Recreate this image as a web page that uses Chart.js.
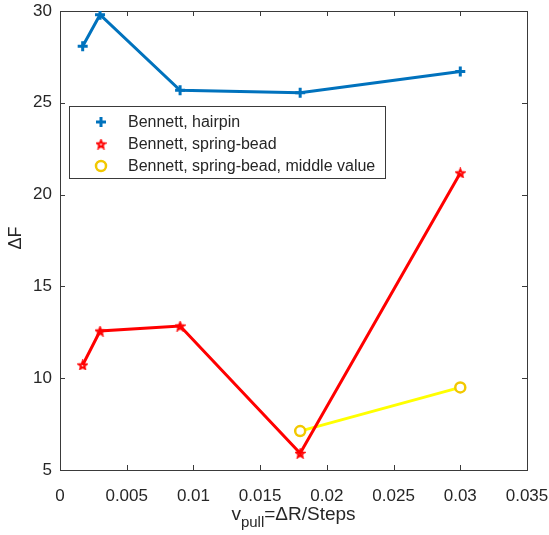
<!DOCTYPE html>
<html>
<head>
<meta charset="utf-8">
<script src="https://cdn.jsdelivr.net/npm/chart.js@4/dist/chart.umd.min.js"></script>
<style>
  html, body { margin: 0; padding: 0; background: #fff; }
  #wrap { width: 549px; height: 535px; }
</style>
</head>
<body>
<div id="wrap"><canvas id="freeEnergyChart"></canvas></div>
<script>
// pulling speeds and free energy differences
const vPull = [0.0017, 0.003, 0.009, 0.018, 0.03];
const hairpin = [28.08, 29.8, 25.68, 25.55, 26.7];
const springBead = [10.72, 12.57, 12.84, 5.91, 21.18];
const middleX = [0.018, 0.03];
const middleValue = [7.12, 9.5];
const xTicks = [0, 0.005, 0.01, 0.015, 0.02, 0.025, 0.03, 0.035];
const yTicks = [5, 10, 15, 20, 25, 30];

const FONT = '"Liberation Sans", Arial, Helvetica, sans-serif';
const AXIS_COLOR = '#3a3a3a';

// pentagram marker (MATLAB 'p')
function pentagram(color, size) {
    const c = document.createElement('canvas');
    c.width = size; c.height = size;
    const g = c.getContext('2d');
    const cx = size / 2, cy = size / 2 + 0.5, R = size / 2 - 1.5, r = R * 0.45;
    g.beginPath();
    for (let i = 0; i < 10; i++) {
        const a = -Math.PI / 2 + i * Math.PI / 5;
        const rad = i % 2 === 0 ? R : r;
        const px = cx + rad * Math.cos(a), py = cy + rad * Math.sin(a);
        if (i === 0) g.moveTo(px, py); else g.lineTo(px, py);
    }
    g.closePath();
    g.strokeStyle = color;
    g.lineWidth = 2;
    g.stroke();
    return c;
}
const starMarker = pentagram('#ff0000', 11);

const toPoints = (xs, ys) => xs.map((x, i) => ({ x: x, y: ys[i] }));

// axes box with inward ticks, axis titles and the legend
const matlabAxes = {
    id: 'matlabAxes',
    beforeDatasetsDraw(chart) {
        const { ctx, chartArea: a, scales: { x, y } } = chart;
        ctx.save();
        ctx.strokeStyle = AXIS_COLOR;
        ctx.lineWidth = 1;
        ctx.strokeRect(a.left + 0.5, a.top + 0.5, a.right - a.left, a.bottom - a.top);
        ctx.beginPath();
        x.ticks.forEach(t => {
            const px = Math.round(x.getPixelForValue(t.value)) + 0.5;
            ctx.moveTo(px, a.bottom); ctx.lineTo(px, a.bottom - 5);
            ctx.moveTo(px, a.top); ctx.lineTo(px, a.top + 5);
        });
        y.ticks.forEach(t => {
            const py = Math.round(y.getPixelForValue(t.value)) + 0.5;
            ctx.moveTo(a.left, py); ctx.lineTo(a.left + 5, py);
            ctx.moveTo(a.right, py); ctx.lineTo(a.right - 5, py);
        });
        ctx.stroke();
        ctx.restore();
    },
    afterDraw(chart) {
        const { ctx, chartArea: a } = chart;
        ctx.save();
        ctx.fillStyle = '#262626';
        // y title
        ctx.font = '18px ' + FONT;
        ctx.textAlign = 'center';
        ctx.textBaseline = 'middle';
        ctx.translate(16, 238);
        ctx.rotate(-Math.PI / 2);
        ctx.fillText('ΔF', 0, 0);
        ctx.setTransform(1, 0, 0, 1, 0, 0);

        // x title with subscript
        const main1 = 'v', sub = 'pull', main2 = '=ΔR/Steps';
        ctx.textAlign = 'left';
        ctx.textBaseline = 'alphabetic';
        ctx.font = '19px ' + FONT;
        const w1 = ctx.measureText(main1).width, w3 = ctx.measureText(main2).width;
        ctx.font = '15px ' + FONT;
        const w2 = ctx.measureText(sub).width;
        let tx = (a.left + a.right) / 2 - (w1 + w2 + w3) / 2;
        const base = 520;
        ctx.font = '19px ' + FONT;
        ctx.fillText(main1, tx, base); tx += w1;
        ctx.font = '15px ' + FONT;
        ctx.fillText(sub, tx, base + 7); tx += w2;
        ctx.font = '19px ' + FONT;
        ctx.fillText(main2, tx, base);

        // legend
        const box = { x: 69.5, y: 106.5, w: 316, h: 72 };
        ctx.fillStyle = '#fff';
        ctx.fillRect(box.x, box.y, box.w, box.h);
        ctx.strokeStyle = AXIS_COLOR;
        ctx.lineWidth = 1;
        ctx.strokeRect(box.x, box.y, box.w, box.h);
        ctx.font = '16px ' + FONT;
        ctx.textBaseline = 'middle';
        chart.data.datasets.forEach((ds, i) => {
            const ly = 122 + i * 22;
            const r = ds.pointRadius;
            ctx.strokeStyle = ds.pointBorderColor;
            ctx.fillStyle = ds.pointBackgroundColor;
            ctx.lineWidth = ds.pointBorderWidth;
            ctx.beginPath();
            if (ds.pointStyle === 'cross') {
                ctx.moveTo(101 - r, ly); ctx.lineTo(101 + r, ly);
                ctx.moveTo(101, ly - r); ctx.lineTo(101, ly + r);
                ctx.stroke();
            } else if (ds.pointStyle === 'circle') {
                ctx.arc(101, ly, r, 0, Math.PI * 2);
                ctx.fill(); ctx.stroke();
            } else {
                ctx.drawImage(ds.pointStyle, 101 - ds.pointStyle.width / 2, ly - ds.pointStyle.height / 2);
            }
            ctx.fillStyle = '#262626';
            ctx.fillText(ds.label, 128, ly + 1);
        });
        ctx.restore();
    }
};

const ctx = document.getElementById('freeEnergyChart').getContext('2d');
const freeEnergyChart = new Chart(ctx, {
    type: 'scatter',
    data: {
        datasets: [{
            label: 'Bennett, hairpin',
            data: toPoints(vPull, hairpin),
            showLine: true,
            borderColor: '#0072bd',
            borderWidth: 3,
            pointStyle: 'cross',
            pointRadius: 5,
            pointBorderWidth: 3,
            pointBorderColor: '#0072bd',
            pointBackgroundColor: '#0072bd'
        }, {
            label: 'Bennett, spring-bead',
            data: toPoints(vPull, springBead),
            showLine: true,
            borderColor: '#ff0000',
            borderWidth: 3,
            pointStyle: starMarker,
            pointRadius: 5,
            pointBorderWidth: 2,
            pointBorderColor: '#ff0000',
            pointBackgroundColor: '#ff0000'
        }, {
            label: 'Bennett, spring-bead, middle value',
            data: toPoints(middleX, middleValue),
            showLine: true,
            borderColor: '#ffff00',
            borderWidth: 3,
            pointStyle: 'circle',
            pointRadius: 5,
            pointBorderWidth: 2.5,
            pointBorderColor: '#f2c800',
            pointBackgroundColor: '#ffffff'
        }]
    },
    options: {
        responsive: true,
        maintainAspectRatio: false,
        animation: false,
        layout: { padding: { left: 0, top: 11, right: 22, bottom: 0 } },
        plugins: {
            legend: { display: false },
            tooltip: { enabled: false }
        },
        scales: {
            x: {
                type: 'linear',
                min: 0,
                max: 0.035,
                afterBuildTicks: s => { s.ticks = xTicks.map(v => ({ value: v })); },
                afterFit: s => { s.height = 65; s.paddingLeft = 0; s.paddingRight = 0; },
                grid: { display: false },
                border: { display: false },
                ticks: {
                    color: '#262626',
                    font: { family: FONT, size: 17 },
                    padding: 8,
                    maxRotation: 0,
                    callback: v => String(Number(v.toFixed(4)))
                }
            },
            y: {
                type: 'linear',
                min: 5,
                max: 30,
                afterBuildTicks: s => { s.ticks = yTicks.map(v => ({ value: v })); },
                afterFit: s => { s.width = 60; s.paddingTop = 0; s.paddingBottom = 0; },
                grid: { display: false },
                border: { display: false },
                ticks: {
                    color: '#262626',
                    font: { family: FONT, size: 17 },
                    padding: 0
                }
            }
        }
    },
    plugins: [matlabAxes]
});
</script>
</body>
</html>
